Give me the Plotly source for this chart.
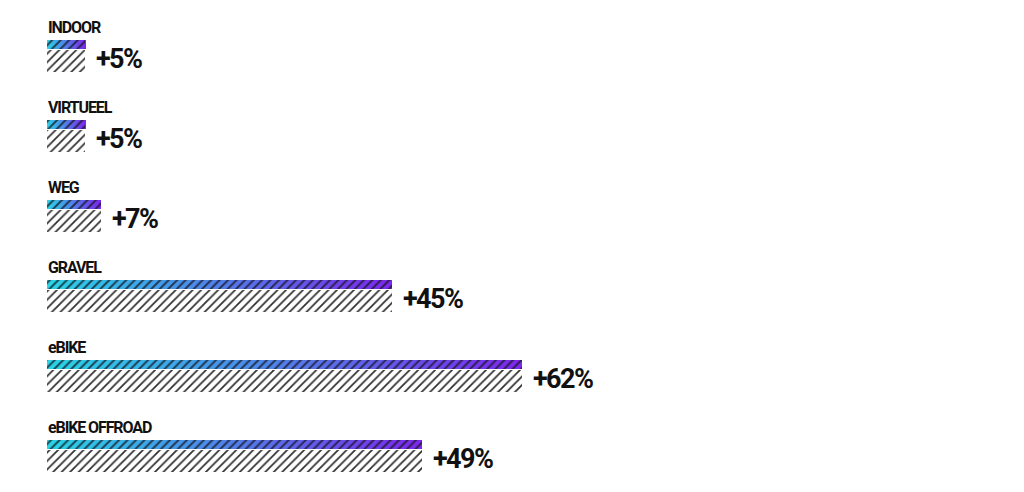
import plotly.graph_objects as go

categories = ["INDOOR", "VIRTUEEL", "WEG", "GRAVEL", "eBIKE", "eBIKE OFFROAD"]
growth = [5, 5, 7, 45, 62, 49]
value_labels = ["+5%", "+5%", "+7%", "+45%", "+62%", "+49%"]

C0 = (40, 213, 232)   # cyan
C1 = (124, 40, 238)   # purple
N = 60
PITCH = 80
OFF = 8  # page body margin
FONT = "Roboto"
SPAN_CAT = '<span style="font-weight:bold;letter-spacing:-1.1px">{}</span>'
SPAN_VAL = '<span style="font-weight:bold;letter-spacing:-1.6px">{}</span>'

def lerp(t):
    r = [round(C0[k] + (C1[k] - C0[k]) * t) for k in range(3)]
    return f"rgb({r[0]},{r[1]},{r[2]})"

fig = go.Figure()

# gradient bars as stacked solid segments
gy, gx, gb, gc = [], [], [], []
for i, v in enumerate(growth):
    for s in range(N):
        gy.append(44.5 - OFF + PITCH * i)
        gx.append(v / N * 1.002)
        gb.append(v * s / N)
        gc.append(lerp(s / (N - 1)))
fig.add_trace(go.Bar(
    y=gy, x=gx, base=gb, orientation="h", width=9.5,
    marker=dict(color=gc, line=dict(width=0)),
    hoverinfo="skip", showlegend=False))

# hatching over gradient bars
fig.add_trace(go.Bar(
    y=[44.5 - OFF + PITCH * i for i in range(len(growth))], x=growth, orientation="h", width=9.5,
    marker=dict(color="rgba(0,0,0,0)", line=dict(width=0),
                pattern=dict(shape="/", fillmode="overlay", fgcolor="#15151f",
                             fgopacity=0.75, size=6, solidity=0.33)),
    hoverinfo="skip", showlegend=False))

# grey hatched bars
fig.add_trace(go.Bar(
    y=[61 - OFF + PITCH * i for i in range(len(growth))], x=growth, orientation="h", width=22,
    marker=dict(color="white", line=dict(width=0),
                pattern=dict(shape="/", fillmode="overlay", fgcolor="#2e2e2e",
                             fgopacity=1, size=6, solidity=0.28)),
    hoverinfo="skip", showlegend=False))

for i, (c, v, lab) in enumerate(zip(categories, growth, value_labels)):
    fig.add_annotation(x=0, y=27 - OFF + PITCH * i, text=SPAN_CAT.format(c), showarrow=False,
                       xanchor="left", yanchor="middle", xshift=-1,
                       font=dict(family=FONT, size=16, color="#111", weight="bold"))
    fig.add_annotation(x=v, y=59 - OFF + PITCH * i, text=SPAN_VAL.format(lab), showarrow=False,
                       xanchor="left", yanchor="middle", xshift=9,
                       font=dict(family=FONT, size=27, color="#111", weight="bold"))

K = 7.66
W, H = 1016, 484
fig.update_layout(
    width=W, height=H, margin=dict(l=0, r=0, t=0, b=0),
    paper_bgcolor="white", plot_bgcolor="white",
    barmode="overlay", bargap=0,
    xaxis=dict(range=[-(47 - OFF) / K, (W - (47 - OFF)) / K], visible=False, fixedrange=True),
    yaxis=dict(range=[H, 0], visible=False, fixedrange=True),
)
fig.write_html("out.html")
